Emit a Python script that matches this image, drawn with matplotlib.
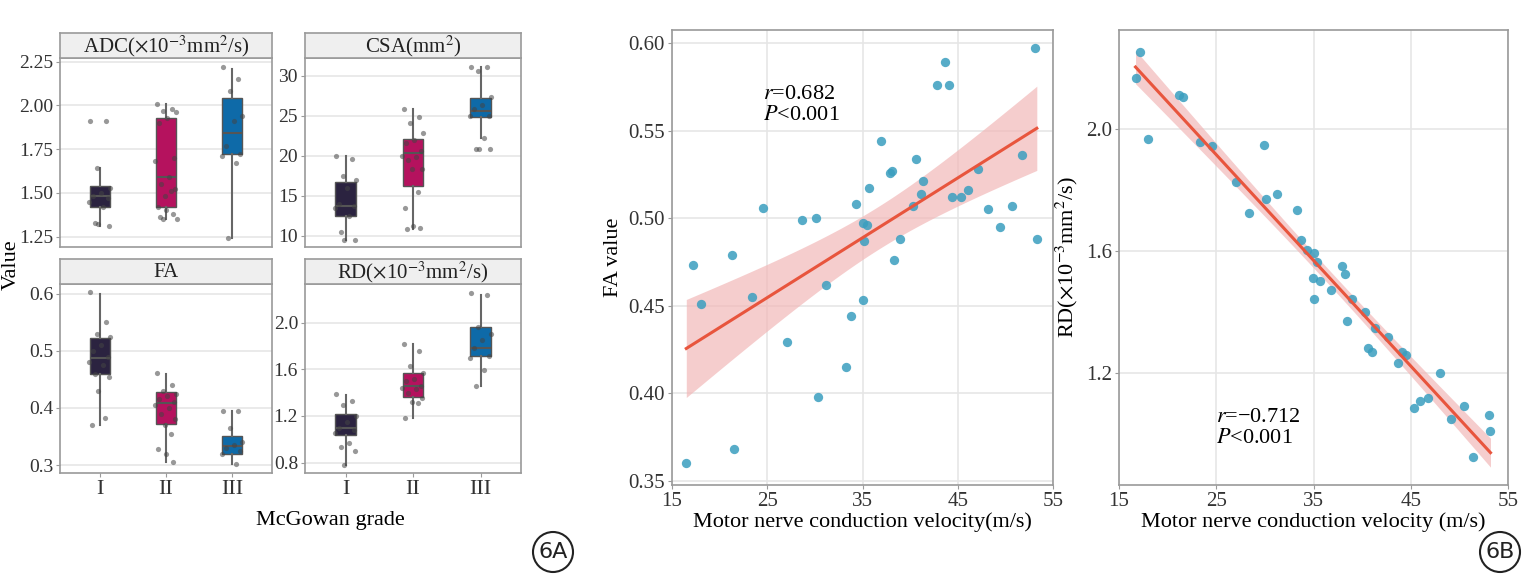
import numpy as np
import matplotlib.pyplot as plt
from matplotlib.patches import Ellipse

plt.rcParams['font.family'] = ['Liberation Serif', 'DejaVu Serif']
plt.rcParams['mathtext.fontset'] = 'stix'

grades = ["I", "II", "III"]
colors = ["#2b2340", "#b5125e", "#0e6aa8"]

# box stats per panel: (q1, median, q3, whisker low, whisker high)
adc_stats = [(1.42, 1.48, 1.54, 1.31, 1.64), (1.42, 1.59, 1.93, 1.35, 2.01), (1.72, 1.84, 2.04, 1.24, 2.21)]
adc_pts = [[1.91, 1.91, 1.64, 1.53, 1.50, 1.48, 1.47, 1.45, 1.42, 1.33, 1.31, 1.32],
           [2.01, 1.98, 1.97, 1.96, 1.93, 1.90, 1.70, 1.68, 1.59, 1.55, 1.52, 1.48, 1.51, 1.42, 1.40, 1.38, 1.36, 1.35, 1.35],
           [2.22, 2.15, 2.08, 1.94, 1.91, 1.77, 1.72, 1.71, 1.67, 1.24]]
csa_stats = [(12.5, 13.7, 16.7, 9.5, 20.0), (16.2, 20.3, 22.1, 10.8, 25.8), (24.8, 25.6, 27.2, 22.2, 31.1)]
csa_pts = [[20, 19.6, 17.5, 17, 16, 14, 13.7, 13.5, 12.5, 10.5, 9.5, 9.5],
           [25.8, 24.8, 24.1, 22.8, 22, 21.6, 20.6, 20, 19.9, 19.5, 18.3, 18.3, 15.5, 13.5, 11.2, 11, 10.8],
           [31.1, 31.1, 30.6, 27.3, 26.3, 25.8, 25, 25, 22.2, 20.8, 20.8, 20.8]]
fa_stats = [(0.46, 0.487, 0.522, 0.37, 0.60), (0.372, 0.408, 0.427, 0.305, 0.46), (0.32, 0.333, 0.35, 0.302, 0.395)]
fa_pts = [[0.603, 0.55, 0.53, 0.525, 0.51, 0.50, 0.49, 0.48, 0.475, 0.46, 0.455, 0.43, 0.383, 0.37],
          [0.462, 0.44, 0.43, 0.425, 0.42, 0.415, 0.41, 0.405, 0.40, 0.39, 0.38, 0.37, 0.355, 0.328, 0.32, 0.305],
          [0.395, 0.395, 0.365, 0.34, 0.335, 0.33, 0.325, 0.32, 0.302]]
rd_stats = [(1.04, 1.10, 1.22, 0.78, 1.38), (1.36, 1.46, 1.57, 1.18, 1.82), (1.71, 1.78, 1.96, 1.46, 2.24)]
rd_pts = [[1.39, 1.33, 1.29, 1.20, 1.15, 1.10, 1.08, 1.05, 0.97, 0.93, 0.90, 0.78],
          [1.82, 1.76, 1.63, 1.57, 1.52, 1.50, 1.46, 1.44, 1.43, 1.40, 1.35, 1.32, 1.31, 1.18],
          [2.25, 2.24, 1.96, 1.90, 1.85, 1.78, 1.71, 1.70, 1.59, 1.46]]

fa_x = [16.5, 17.2, 18.0, 21.3, 21.5, 23.4, 24.6, 27.1, 28.6, 30.1, 30.3, 31.2, 33.3, 33.8, 34.3, 35.0, 35.1, 35.2,
        35.5, 35.7, 36.9, 37.9, 38.1, 38.3, 38.9, 40.3, 40.6, 41.1, 41.3, 42.8, 43.7, 44.1, 44.4, 45.3, 46.1, 47.1,
        48.2, 49.4, 50.7, 51.7, 53.1, 53.3]
fa_y = [0.360, 0.473, 0.451, 0.479, 0.368, 0.455, 0.506, 0.429, 0.499, 0.500, 0.398, 0.462, 0.415, 0.444, 0.508,
        0.453, 0.497, 0.487, 0.496, 0.517, 0.544, 0.526, 0.527, 0.476, 0.488, 0.507, 0.534, 0.514, 0.521, 0.576,
        0.589, 0.576, 0.512, 0.512, 0.516, 0.528, 0.505, 0.495, 0.507, 0.536, 0.597, 0.488]
rd_x = [16.7, 17.2, 18.0, 21.2, 21.6, 23.3, 24.6, 27.0, 28.4, 29.9, 30.1, 31.2, 33.3, 33.7, 34.3, 35.1, 35.4, 34.9,
        35.7, 35.1, 36.8, 37.9, 38.2, 39.0, 38.4, 40.3, 41.3, 40.6, 41.0, 42.7, 44.1, 44.5, 43.7, 48.0, 46.8, 45.9,
        45.3, 50.5, 49.1, 53.0, 53.2, 51.4]
rd_y = [2.168, 2.253, 1.968, 2.110, 2.105, 1.957, 1.944, 1.825, 1.725, 1.949, 1.771, 1.786, 1.736, 1.635, 1.604,
        1.593, 1.563, 1.513, 1.502, 1.444, 1.472, 1.551, 1.525, 1.442, 1.370, 1.402, 1.349, 1.284, 1.269, 1.320,
        1.271, 1.260, 1.233, 1.202, 1.120, 1.108, 1.086, 1.093, 1.049, 1.062, 1.011, 0.926]

W, H = 1536, 579
fig = plt.figure(figsize=(W / 100, H / 100), dpi=100)
GRID = "#e6e6e6"
SPINE = "#9a9a9a"
jitter = [-0.14, 0.09, -0.04, 0.15, 0.02, -0.1, 0.12, -0.16, 0.05, -0.07, 0.14, -0.02, 0.08, -0.12, 0.0, 0.11, -0.09, 0.16, -0.05]


def px_axes(x0, y0, x1, y1):
    return fig.add_axes([x0 / W, 1 - y1 / H, (x1 - x0) / W, (y1 - y0) / H])


def style(ax, size=15):
    for s in ax.spines.values():
        s.set_color(SPINE)
        s.set_linewidth(1.2)
    ax.tick_params(colors="#333333", labelsize=size, length=3, color=SPINE, pad=2)
    ax.set_axisbelow(True)


def facet(box, strip_title, stats, pts, ylim, yticks, ytl, show_x):
    x0, y0, x1, y1 = box
    ax = px_axes(x0, y0, x1, y1)
    st = px_axes(x0, y0 - 25, x1, y0)
    st.set_facecolor("#efefef")
    st.set_xticks([]); st.set_yticks([])
    for s in st.spines.values():
        s.set_color(SPINE); s.set_linewidth(1.2)
    st.text(0.5, 0.45, strip_title, ha="center", va="center", fontsize=15, color="#222222")
    style(ax, 14)
    for i, (q1, med, q3, lo, hi) in enumerate(stats):
        ax.bxp([dict(q1=q1, med=med, q3=q3, whislo=lo, whishi=hi, fliers=[])], positions=[i + 1], widths=0.3,
               patch_artist=True, showfliers=False, showcaps=False,
               boxprops=dict(facecolor=colors[i], edgecolor="#555555", linewidth=1),
               medianprops=dict(color="#555555", linewidth=1.5),
               whiskerprops=dict(color="#666666", linewidth=1.5))
        xs = [i + 1 + jitter[k % len(jitter)] for k in range(len(pts[i]))]
        ax.scatter(xs, pts[i], s=14, color="#444444", alpha=0.55, zorder=3, linewidths=0)
    ax.set_xlim(0.4, 3.6)
    ax.set_ylim(*ylim)
    ax.set_yticks(yticks)
    ax.set_yticklabels(ytl)
    ax.yaxis.grid(True, color=GRID, linewidth=1.2)
    ax.set_xticks([1, 2, 3])
    if show_x:
        ax.set_xticklabels(grades, fontsize=16)
    else:
        ax.tick_params(axis="x", length=0)
        ax.set_xticklabels([])
    return ax


facet((60, 58, 272, 247), r"ADC($\times$10$^{-3}$mm$^{2}$/s)", adc_stats, adc_pts, (1.19, 2.27),
      [1.25, 1.5, 1.75, 2.0, 2.25], ["1.25", "1.50", "1.75", "2.00", "2.25"], False)
facet((305, 58, 521, 247), r"CSA(mm$^{2}$)", csa_stats, csa_pts, (8.6, 32.2),
      [10, 15, 20, 25, 30], ["10", "15", "20", "25", "30"], False)
facet((60, 284, 272, 473), "FA", fa_stats, fa_pts, (0.286, 0.617),
      [0.3, 0.4, 0.5, 0.6], ["0.3", "0.4", "0.5", "0.6"], True)
facet((305, 284, 521, 473), r"RD($\times$10$^{-3}$mm$^{2}$/s)", rd_stats, rd_pts, (0.71, 2.33),
      [0.8, 1.2, 1.6, 2.0], ["0.8", "1.2", "1.6", "2.0"], True)
fig.text(11 / W, 1 - 265 / H, "Value", rotation=90, ha="center", va="center", fontsize=16)
fig.text(330 / W, 1 - 520 / H, "McGowan grade", ha="center", va="center", fontsize=16)


def scatter_panel(box, x, y, ylim, yticks, ytl, ylabel, xlabel, note, note_xy):
    ax = px_axes(*box)
    style(ax)
    ax.grid(True, color=GRID, linewidth=1.2)
    x = np.asarray(x); y = np.asarray(y)
    ax.scatter(x, y, s=45, color="#3a9ebf", alpha=0.85, linewidths=0, zorder=3)
    b, a = np.polyfit(x, y, 1)
    xs = np.linspace(x.min(), x.max(), 100)
    fit = a + b * xs
    n = len(x)
    resid = y - (a + b * x)
    s = np.sqrt(np.sum(resid ** 2) / (n - 2))
    se = s * np.sqrt(1 / n + (xs - x.mean()) ** 2 / np.sum((x - x.mean()) ** 2))
    ax.fill_between(xs, fit - 2.02 * se, fit + 2.02 * se, color="#f2b8b8", alpha=0.7, linewidth=0, zorder=2)
    ax.plot(xs, fit, color="#e8553d", linewidth=2.2, zorder=4)
    ax.set_xlim(15, 55)
    ax.set_xticks([15, 25, 35, 45, 55])
    ax.set_ylim(*ylim)
    ax.set_yticks(yticks)
    ax.set_yticklabels(ytl)
    ax.set_xlabel(xlabel, fontsize=16, labelpad=1)
    ax.set_ylabel(ylabel, fontsize=16)
    ax.text(*note_xy, note, transform=ax.transAxes, fontsize=16, va="top", ha="left")
    return ax


scatter_panel((672, 30, 1053, 485), fa_x, fa_y, (0.3475, 0.6075), [0.35, 0.4, 0.45, 0.5, 0.55, 0.6],
              ["0.35", "0.40", "0.45", "0.50", "0.55", "0.60"], "FA value",
              "Motor nerve conduction velocity(m/s)", "$r$=0.682\n$P$<0.001", (0.24, 0.88))
scatter_panel((1119, 30, 1508, 485), rd_x, rd_y, (0.834, 2.324), [1.2, 1.6, 2.0],
              ["1.2", "1.6", "2.0"], r"RD($\times$10$^{-3}$mm$^{2}$/s)",
              "Motor nerve conduction velocity (m/s)", "$r$=\u22120.712\n$P$<0.001", (0.25, 0.17))

for cx, lab in [(553, "6A"), (1500, "6B")]:
    fig.patches.append(Ellipse((cx / W, 1 - 552 / H), 40 / W, 40 / H, transform=fig.transFigure,
                               fill=False, edgecolor="#222222", linewidth=1.5))
    fig.text(cx / W, 1 - 552 / H, lab, ha="center", va="center", fontsize=16,
             family="DejaVu Sans", color="#222222")

fig.savefig("out.png", dpi=100)
